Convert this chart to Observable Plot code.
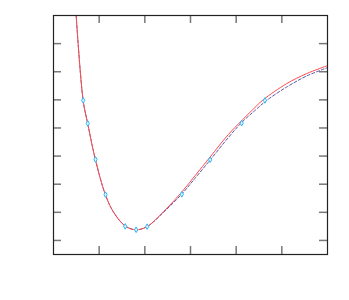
<!DOCTYPE html>
<html>
<head>
<meta charset="utf-8">
<script src="https://cdn.jsdelivr.net/npm/d3@7"></script>
<script src="https://cdn.jsdelivr.net/npm/@observablehq/plot@0.6"></script>
<style>
  html, body { margin: 0; padding: 0; background: #fff; }
  #chart { width: 349px; height: 300px; }
</style>
</head>
<body>
<div id="chart"></div>
<script>
// Fitted curve 1 (red, solid)
const fitAX = [0.496, 0.649, 0.749, 0.917, 1.136, 1.317, 1.573, 1.806, 2.047, 2.409, 2.807, 3.102, 3.429, 3.830, 4.413, 4.594, 5.105, 5.542, 5.978];
const fitAY = [8.01, 4.98, 4.16, 2.88, 1.63, 1.00, 0.51, 0.38, 0.49, 1.023, 1.718, 2.307, 2.966, 3.768, 4.731, 5.005, 5.576, 5.932, 6.203];
// Fitted curve 2 (blue, dashed)
const fitBX = [0.496, 0.649, 0.749, 0.917, 1.136, 1.317, 1.573, 1.806, 2.047, 2.409, 2.807, 3.102, 3.429, 3.830, 4.122, 4.413, 4.668, 5.105, 5.542, 5.978];
const fitBY = [8.01, 4.98, 4.16, 2.88, 1.63, 1.00, 0.51, 0.38, 0.49, 1.00, 1.647, 2.217, 2.859, 3.661, 4.196, 4.624, 4.980, 5.455, 5.847, 6.132];
// Measured points
const ptX = [0.65, 0.75, 0.92, 1.14, 1.57, 1.81, 2.05, 2.81, 3.43, 4.12, 4.63];
const ptY = [4.98, 4.16, 2.88, 1.63, 0.50, 0.38, 0.49, 1.64, 2.87, 4.17, 4.98];
// Tick positions (no labels)
const xTicks = [1, 2, 3, 4, 5];
const yTicks = [0, 1, 2, 3, 4, 5, 6, 7];

const W = 349, H = 300;
const mL = 53, mR = 22, mT = 15, mB = 46;
const pw = W - mL - mR, ph = H - mT - mB;
const tk = 8;

const fitA = fitAX.map((x, i) => ({x, y: fitAY[i]}));
const fitB = fitBX.map((x, i) => ({x, y: fitBY[i]}));
const pts = ptX.map((x, i) => ({x, y: ptY[i]}));

const chart = Plot.plot({
  width: W,
  height: H,
  marginLeft: mL,
  marginRight: mR,
  marginTop: mT,
  marginBottom: mB,
  x: {domain: [0, 6], axis: null},
  y: {domain: [-0.5, 8], axis: null},
  style: {background: "#fff"},
  marks: [
    Plot.tickY(yTicks, {y: d => d, stroke: "#777", strokeWidth: 1.5, insetRight: pw - tk}),
    Plot.tickY(yTicks, {y: d => d, stroke: "#777", strokeWidth: 1.5, insetLeft: pw - tk}),
    Plot.tickX(xTicks, {x: d => d, stroke: "#777", strokeWidth: 1.5, insetBottom: ph - tk}),
    Plot.tickX(xTicks, {x: d => d, stroke: "#777", strokeWidth: 1.5, insetTop: ph - tk}),
    Plot.line(fitB, {x: "x", y: "y", curve: "catmull-rom", stroke: "#5a5aaa", strokeWidth: 1, strokeDasharray: "3,2", clip: true}),
    Plot.line(fitA, {x: "x", y: "y", curve: "catmull-rom", stroke: "#ff4a4a", strokeWidth: 1, clip: true}),
    Plot.dot(pts, {x: "x", y: "y", symbol: "diamond", r: 1.7, stroke: "#33b5ee", strokeWidth: 1, fill: "#dff4ff"}),
    Plot.frame({stroke: "#222", strokeWidth: 1.2})
  ]
});
document.getElementById("chart").appendChild(chart);
</script>
</body>
</html>
